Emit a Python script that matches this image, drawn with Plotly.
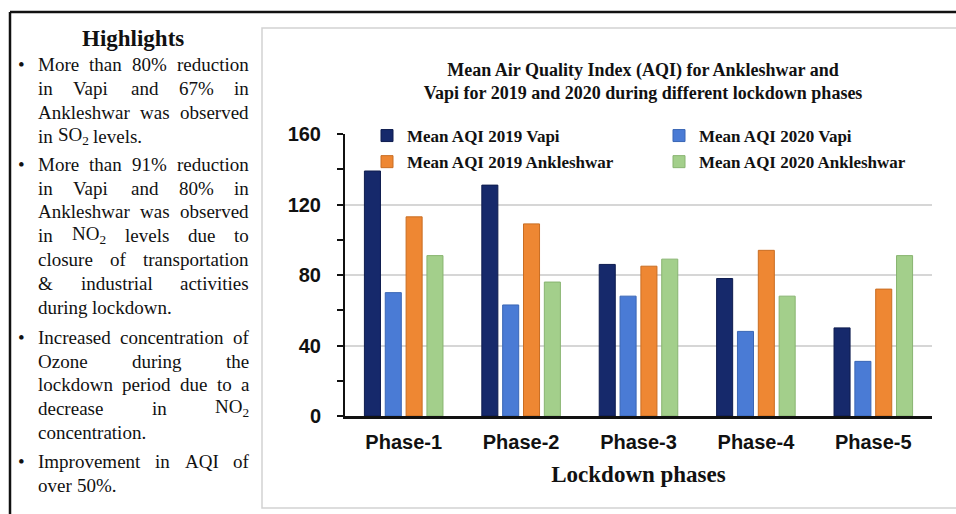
import plotly.graph_objects as go

# ---------------- data ----------------
phases = ["Phase-1", "Phase-2", "Phase-3", "Phase-4", "Phase-5"]
aqi_2019_vapi = [139, 131, 86, 78, 50]
aqi_2020_vapi = [70, 63, 68, 48, 31]
aqi_2019_ankleshwar = [113, 109, 85, 94, 72]
aqi_2020_ankleshwar = [91, 76, 89, 68, 91]
series_names = ["Mean AQI 2019 Vapi", "Mean AQI 2020 Vapi",
                "Mean AQI 2019 Ankleshwar", "Mean AQI 2020 Ankleshwar"]
y_tick_values = [0, 40, 80, 120, 160]
chart_title = ("Mean Air Quality Index (AQI) for Ankleshwar and<br>"
               "Vapi for 2019 and 2020 during different lockdown phases")
x_title = "Lockdown phases"
highlights_title = "Highlights"
# each bullet: list of (line text, justified?)
highlights = [
    [("More than 80% reduction", True), ("in Vapi and 67% in", True),
     ("Ankleshwar was observed", True), ("in SO_2 levels.", False)],
    [("More than 91% reduction", True), ("in Vapi and 80% in", True),
     ("Ankleshwar was observed", True), ("in NO_2 levels due to", True),
     ("closure of transportation", True), ("& industrial activities", True),
     ("during lockdown.", False)],
    [("Increased concentration of", True), ("Ozone during the", True),
     ("lockdown period due to a", True), ("decrease in NO_2", True),
     ("concentration.", False)],
    [("Improvement in AQI of", True), ("over 50%.", False)],
]

# ---------------- style ----------------
W, H = 956, 514
L, R, T, B = 345, 932, 134, 416
colors = ["#16296b", "#4a7bd5", "#ee8733", "#a3cf8b"]
edge_colors = ["#0e1c4f", "#3a66b5", "#c96d22", "#88b470"]
legend_of = ["legend", "legend2", "legend", "legend2"]
SERIF = "Liberation Serif, Times New Roman, serif"
SANS = "Liberation Sans, Arial, sans-serif"


def px2x(px):
    return (px - L) / (R - L)


def py2y(py):
    return (B - py) / (B - T)


# Times metrics (1/1000 em) for justification
TW = {' ': 250, '%': 833, '&': 778, '.': 250, ',': 250, '-': 333,
      'A': 722, 'I': 333, 'M': 889, 'N': 722, 'O': 722, 'Q': 722, 'S': 556, 'V': 722,
      'a': 444, 'b': 500, 'c': 444, 'd': 500, 'e': 444, 'f': 333, 'g': 500, 'h': 500,
      'i': 278, 'j': 278, 'k': 500, 'l': 278, 'm': 778, 'n': 500, 'o': 500, 'p': 500,
      'q': 500, 'r': 333, 's': 389, 't': 278, 'u': 500, 'v': 500, 'w': 722, 'x': 500,
      'y': 500, 'z': 444}
FS = 19


def word_width(w):
    if "_2" in w:
        base = w.replace("_2", "")
        return sum(TW.get(c, 500) for c in base) * FS / 1000 + 0.7 * 500 * FS / 1000
    return sum(TW.get(c, 500) for c in w) * FS / 1000


def word_html(w):
    return w.replace("_2", "<sub>2</sub>")


fig = go.Figure()
series = [aqi_2019_vapi, aqi_2020_vapi, aqi_2019_ankleshwar, aqi_2020_ankleshwar]
for i, (name, vals) in enumerate(zip(series_names, series)):
    fig.add_trace(go.Bar(
        x=phases, y=vals, name=name, legend=legend_of[i], legendgroup=f"g{i}",
        marker=dict(color=colors[i], line=dict(color=edge_colors[i], width=1)),
    ))

annotations = []
# Highlights heading
annotations.append(dict(text="<b>" + highlights_title + "</b>", x=px2x(133), y=py2y(39),
                        xref="paper", yref="paper", showarrow=False, xanchor="center",
                        yanchor="middle", font=dict(family=SERIF, size=23, color="#111")))
line_y = [[65, 88, 112, 136], [164, 188, 211, 235, 259, 283, 307],
          [337, 361, 384, 408, 432], [461, 485]]
XL, XR = 37, 248
for bi, bullet in enumerate(highlights):
    annotations.append(dict(text="•", x=px2x(21), y=py2y(line_y[bi][0]), xref="paper",
                            yref="paper", showarrow=False, xanchor="center", yanchor="middle",
                            font=dict(family=SERIF, size=FS, color="#111")))
    for li, (line, just) in enumerate(bullet):
        words = line.split(" ")
        widths = [word_width(w) for w in words]
        if just and len(words) > 1:
            gap = (XR - XL - sum(widths)) / (len(words) - 1)
        else:
            gap = TW[' '] * FS / 1000
        xpos = XL
        for w, ww in zip(words, widths):
            annotations.append(dict(text=word_html(w), x=px2x(xpos - 1), y=py2y(line_y[bi][li]),
                                    xref="paper", yref="paper", showarrow=False,
                                    xanchor="left", yanchor="middle",
                                    font=dict(family=SERIF, size=FS, color="#111")))
            xpos += ww + gap

shapes = [
    # outer frame
    dict(type="line", xref="paper", yref="paper", x0=px2x(10), x1=px2x(10),
         y0=py2y(12), y1=py2y(530), line=dict(color="#111", width=2.5)),
    dict(type="line", xref="paper", yref="paper", x0=px2x(10), x1=px2x(970),
         y0=py2y(12), y1=py2y(12), line=dict(color="#111", width=2.5)),
    # chart panel
    dict(type="rect", xref="paper", yref="paper", x0=px2x(262), x1=px2x(990),
         y0=py2y(508), y1=py2y(28), line=dict(color="#d2d2d2", width=1.5), layer="below"),
    # legend backdrop hiding the top gridline
    dict(type="rect", xref="paper", yref="paper", x0=px2x(364), x1=1.0,
         y0=py2y(139), y1=py2y(129), line=dict(width=0), fillcolor="white", layer="between"),
]

legend_font = dict(family=SERIF, size=17, color="#111", weight="bold")
fig.update_layout(
    width=W, height=H,
    margin=dict(l=L, r=W - R, t=T, b=H - B, pad=0),
    paper_bgcolor="white", plot_bgcolor="white",
    font=dict(family=SERIF, color="#111"),
    title=dict(text="<b>" + chart_title + "</b>", x=643 / W, xanchor="center",
               y=1 - 76 / H, yanchor="middle", xref="container", yref="container",
               font=dict(family=SERIF, size=18, color="#111")),
    barmode="group", bargap=0.29, bargroupgap=0.23,
    legend=dict(x=px2x(367), xanchor="left", y=py2y(118), yanchor="top",
                bgcolor="rgba(0,0,0,0)", font=legend_font,
                tracegroupgap=1, itemclick=False),
    legend2=dict(x=px2x(659), xanchor="left", y=py2y(118), yanchor="top",
                 bgcolor="rgba(0,0,0,0)", font=legend_font,
                 tracegroupgap=1, itemclick=False),
    annotations=annotations,
    shapes=shapes,
)
fig.update_xaxes(type="category", range=[-0.5, 4.5], showline=True, linecolor="#111",
                 linewidth=3, ticks="", showgrid=False,
                 tickfont=dict(family=SANS, size=20, color="#111", weight="bold"),
                 ticklabelstandoff=6,
                 title=dict(text="<b>" + x_title + "</b>", standoff=14,
                            font=dict(family=SERIF, size=23, color="#111")))
fig.update_yaxes(range=[0, 160], tickvals=y_tick_values, showline=True, linecolor="#111",
                 linewidth=2, ticks="outside", ticklen=6, tickwidth=2, tickcolor="#111",
                 showgrid=True, gridcolor="#d6d6d6", gridwidth=1.5, zeroline=False,
                 tickfont=dict(family=SANS, size=20, color="#111", weight="bold"),
                 ticklabelstandoff=12,
                 minor=dict(dtick=20, tick0=0, ticks="outside", ticklen=6, tickwidth=2,
                            tickcolor="#111", showgrid=False))

fig.write_html("out.html",
               config={"displayModeBar": False},
               post_script="document.body.style.margin='0';document.body.style.overflow='hidden';")
